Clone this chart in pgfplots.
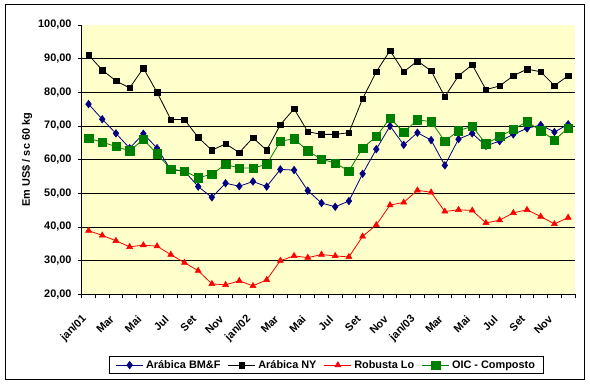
\documentclass[border=0pt]{standalone}
\usepackage{fontspec}
\setmainfont{Liberation Sans}
\usepackage{pgfplots}
\usepackage{pgfplotstable}
\pgfplotsset{compat=1.18}
\definecolor{navyb}{RGB}{0,0,128}
\definecolor{plotbg}{RGB}{255,255,204}
\definecolor{oicgreen}{RGB}{0,128,0}
\newcommand{\cf}{\bfseries\fontsize{10.9}{13}\selectfont}
\pgfplotstableread{
idx bmf ny rob oic
0 76.5 91.1 38.9 66.3
1 72.0 86.6 37.5 65.2
2 67.8 83.4 35.9 63.9
3 63.4 81.3 34.1 62.6
4 67.7 87.2 34.6 66.0
5 63.4 80.0 34.3 61.7
6 57.0 71.9 31.8 57.2
7 56.6 71.9 29.4 56.6
8 52.0 66.6 27.0 54.6
9 48.8 62.8 23.1 55.7
10 53.0 64.7 22.8 58.6
11 52.1 62.1 24.0 57.5
12 53.5 66.5 22.5 57.5
13 52.0 62.8 24.3 58.6
14 57.1 70.4 30.0 65.5
15 56.9 75.1 31.4 66.2
16 50.8 68.3 30.9 62.6
17 47.1 67.5 31.8 60.1
18 46.0 67.5 31.4 59.0
19 47.7 68.0 31.1 56.6
20 55.8 78.1 37.2 63.4
21 63.1 86.1 40.6 66.9
22 70.0 92.4 46.5 72.3
23 64.4 86.1 47.3 68.2
24 68.0 89.3 50.9 71.8
25 65.8 86.4 50.3 71.3
26 58.3 78.7 44.6 65.5
27 66.1 84.9 45.1 68.6
28 67.8 88.2 44.9 69.9
29 64.1 80.8 41.2 64.7
30 65.5 81.9 42.0 66.9
31 67.5 84.9 44.2 69.0
32 69.3 86.9 45.1 71.3
33 70.3 86.1 43.1 68.6
34 68.2 82.0 40.9 65.8
35 70.5 84.9 42.8 69.4
}\datatable
\begin{document}
\begin{tikzpicture}[x=1pt,y=1pt]
\path (0,0) rectangle (590,385);
\draw[line width=1pt] (5,5) rectangle (584,380);
\begin{axis}[
  at={(81.7pt,90.7pt)}, anchor=south west,
  width=493.3pt, height=269.3pt, scale only axis,
  xmin=-0.5, xmax=35.5, ymin=20, ymax=100,
  axis x line*=bottom, axis y line*=left,
  axis line style={line width=0.9pt, black},
  axis background/.style={fill=plotbg},
  ytick={20,30,...,90}, extra y ticks={100}, extra y tick style={grid=none},
  ymajorgrids, major grid style={black, line width=0.9pt},
  /pgf/number format/fixed, /pgf/number format/fixed zerofill,
  /pgf/number format/precision=2, /pgf/number format/use comma,
  /pgf/number format/assume math mode=true,
  tick align=outside, major tick length=4pt, minor tick length=4pt,
  tick style={black, line width=0.9pt},
  xtick={0,2,...,34},
  xticklabels={jan/01,Mar,Mai,Jul,Set,Nov,jan/02,Mar,Mai,Jul,Set,Nov,jan/03,Mar,Mai,Jul,Set,Nov},
  minor xtick={-0.5,0.5,...,35.5},
  major x tick style={draw=none},
  xticklabel style={xshift=-3.8pt, yshift=-19pt, rotate=45, anchor=east, inner sep=0pt, font=\cf},
  yticklabel style={font=\cf, xshift=-4pt, inner sep=2pt},
  ylabel={Em US\$ / sc 60 kg},
  ylabel style={at={(axis description cs:-0.111,0.5)}, anchor=center, font=\cf},
  legend style={at={(axis description cs:0.4965,-0.263)}, anchor=center, legend columns=4,
    draw=black, line width=0.9pt, font=\cf,
    inner xsep=6pt, inner ysep=2.5pt,
    nodes={inner xsep=2.5pt, inner ysep=1pt},
    /tikz/every even column/.append style={column sep=5pt}},
  legend image code/.code={\draw[mark repeat=2,mark phase=2,#1] plot coordinates {(0pt,0pt) (13.5pt,0pt) (27pt,0pt)};},
]
\addplot[navyb, line width=0.8pt, mark=diamond*, mark size=3.8pt, mark options={fill=navyb, draw=navyb, line width=0.5pt}] table[x=idx, y=bmf] {\datatable};
\addlegendentry{Arábica BM\&F}
\addplot[black, line width=0.8pt, mark=square*, mark size=2.8pt, mark options={fill=black, line width=0.5pt}] table[x=idx, y=ny] {\datatable};
\addlegendentry{Arábica NY}
\addplot[red, line width=0.8pt, mark=triangle*, mark size=3.5pt, mark options={fill=red, line width=0.5pt}] table[x=idx, y=rob] {\datatable};
\addlegendentry{Robusta Lo}
\addplot[oicgreen, line width=0.8pt, mark=square*, mark size=4.2pt, mark options={fill=oicgreen, line width=0.5pt}] table[x=idx, y=oic] {\datatable};
\addlegendentry{OIC - Composto}
\end{axis}
\end{tikzpicture}
\end{document}
